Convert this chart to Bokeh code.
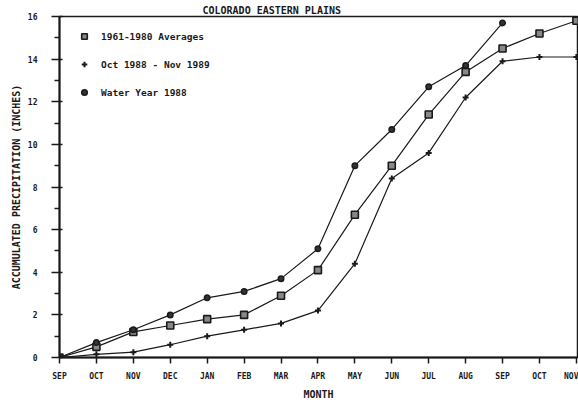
from bokeh.plotting import figure
from bokeh.models import Range1d, FixedTicker, Legend, LegendItem
from bokeh.embed import file_html
from bokeh.resources import INLINE

months = ["SEP", "OCT", "NOV", "DEC", "JAN", "FEB", "MAR", "APR",
          "MAY", "JUN", "JUL", "AUG", "SEP", "OCT", "NOV"]
avg_1961_1980 = [0.0, 0.5, 1.2, 1.5, 1.8, 2.0, 2.9, 4.1, 6.7, 9.0, 11.4, 13.4, 14.5, 15.2, 15.8]
oct88_nov89 = [0.0, 0.15, 0.25, 0.6, 1.0, 1.3, 1.6, 2.2, 4.4, 8.4, 9.6, 12.2, 13.9, 14.1, 14.1]
water_year_1988 = [0.0, 0.7, 1.3, 2.0, 2.8, 3.1, 3.7, 5.1, 9.0, 10.7, 12.7, 13.7, 15.7]

xs = list(range(len(months)))
FONT = "DejaVu Sans Mono"
INK = "#1a1a1a"

p = figure(width=578, height=402, output_backend="svg", toolbar_location=None,
           x_range=Range1d(0, 14.03), y_range=Range1d(0, 16),
           min_border_left=59, min_border_right=1, min_border_top=16, min_border_bottom=42)
p.xgrid.visible = False
p.ygrid.visible = False
p.outline_line_color = INK
p.outline_line_width = 1.5
p.background_fill_color = "white"
p.border_fill_color = "white"

p.title.text = "COLORADO EASTERN PLAINS"
p.title.align = "left"
p.title.offset = 143
p.title.standoff = 2
p.title.text_font = FONT
p.title.text_font_style = "bold"
p.title.text_font_size = "10px"
p.title.text_color = INK

# lines
p.line(xs, avg_1961_1980, line_color=INK, line_width=1.2)
p.line(xs, oct88_nov89, line_color=INK, line_width=1.2)
p.line(xs[:len(water_year_1988)], water_year_1988, line_color=INK, line_width=1.2)

r_avg = p.scatter(xs, avg_1961_1980, marker="square", size=7, line_color=INK,
                  line_width=1.6, fill_color="#888888")
r_oct = p.scatter(xs, oct88_nov89, marker="cross", size=6, line_color=INK, line_width=2)
r_wy = p.scatter(xs[:len(water_year_1988)], water_year_1988, marker="circle", size=5.5,
                 line_color=INK, line_width=1.5, fill_color="#333333")

# axes
p.xaxis.ticker = FixedTicker(ticks=xs)
p.xaxis.major_label_overrides = {i: m for i, m in enumerate(months)}
p.xaxis.axis_label = "MONTH"
p.yaxis.ticker = FixedTicker(ticks=list(range(0, 17, 2)), minor_ticks=list(range(1, 16, 2)))
p.yaxis.axis_label = "ACCUMULATED PRECIPITATION (INCHES)"
for ax in (p.xaxis[0], p.yaxis[0]):
    ax.axis_line_color = INK
    ax.axis_line_width = 2
    ax.major_tick_line_color = INK
    ax.major_tick_line_width = 1.5
    ax.minor_tick_line_color = INK
    ax.minor_tick_line_width = 1.5
    ax.major_label_text_font = FONT
    ax.major_label_text_font_style = "bold"
    ax.major_label_text_font_size = "8px"
    ax.major_label_text_color = INK
    ax.axis_label_text_font = FONT
    ax.axis_label_text_font_style = "bold"
    ax.axis_label_text_font_size = "10px"
    ax.axis_label_text_color = INK
p.xaxis.major_tick_out = 6
p.xaxis.major_tick_in = 0
p.xaxis.minor_tick_out = 0
p.xaxis.minor_tick_in = 0
p.xaxis.major_label_standoff = 8
p.xaxis.axis_label_standoff = 5
p.yaxis.major_tick_out = 8
p.yaxis.major_tick_in = 3
p.yaxis.minor_tick_out = 5
p.yaxis.minor_tick_in = 0
p.yaxis.major_label_standoff = 14
p.yaxis.axis_label_standoff = 3

legend = Legend(items=[
    LegendItem(label="1961-1980 Averages", renderers=[r_avg]),
    LegendItem(label="Oct 1988 - Nov 1989", renderers=[r_oct]),
    LegendItem(label="Water Year 1988", renderers=[r_wy]),
], location=(18, 255), padding=0, margin=0, spacing=8,
   glyph_width=14, glyph_height=20, label_height=20, label_standoff=10,
   border_line_color=None, background_fill_alpha=0,
   label_text_font=FONT, label_text_font_style="bold", label_text_font_size="9.5px",
   label_text_color=INK)
p.add_layout(legend)

open("out.html", "w").write(file_html(p, INLINE))
